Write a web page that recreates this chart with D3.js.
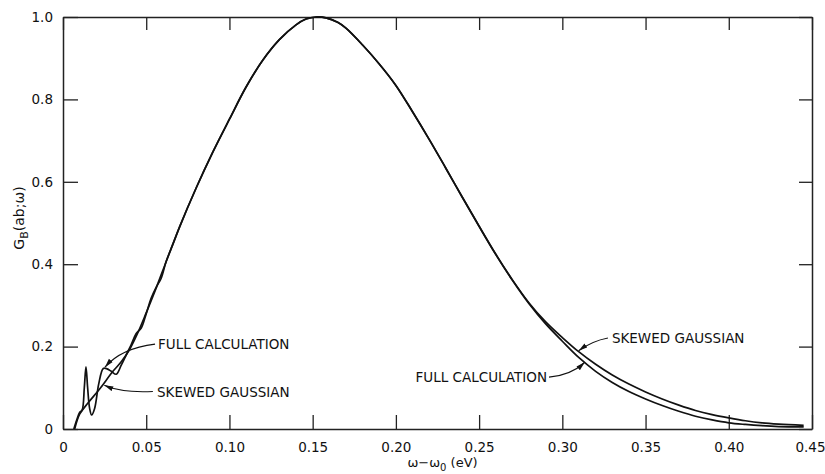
<!DOCTYPE html>
<html>
<head>
<meta charset="utf-8">
<script src="https://cdn.jsdelivr.net/npm/d3@7"></script>
<style>
  html, body { margin: 0; padding: 0; background: #fff; }
  svg text { font-family: "DejaVu Sans", sans-serif; fill: #111; }
</style>
</head>
<body>
<div id="chart"></div>
<script>
// tick values
const xTicks = [0, 0.05, 0.10, 0.15, 0.20, 0.25, 0.30, 0.35, 0.40, 0.45]
const yTicks = [0, 0.2, 0.4, 0.6, 0.8, 1.0]

// skewed gaussian [omega - omega0, G]
const skewedGaussian = [
  [0.007, 0], [0.010, 0.036], [0.015, 0.063], [0.022, 0.097], [0.030, 0.140],
  [0.035, 0.163], [0.040, 0.193], [0.045, 0.234], [0.050, 0.282], [0.055, 0.332],
  [0.060, 0.385], [0.070, 0.490], [0.080, 0.585], [0.090, 0.672], [0.100, 0.752],
  [0.110, 0.830], [0.120, 0.895], [0.130, 0.945], [0.140, 0.981], [0.146, 0.995],
  [0.152, 1.0], [0.158, 0.998], [0.165, 0.987], [0.170, 0.973], [0.180, 0.932],
  [0.190, 0.886], [0.200, 0.834], [0.210, 0.770], [0.220, 0.703], [0.230, 0.633],
  [0.240, 0.562], [0.250, 0.492], [0.260, 0.424], [0.270, 0.362], [0.280, 0.306],
  [0.290, 0.260], [0.300, 0.222], [0.310, 0.187], [0.320, 0.157], [0.330, 0.131],
  [0.340, 0.109], [0.350, 0.090], [0.360, 0.073], [0.370, 0.058], [0.380, 0.045],
  [0.390, 0.035], [0.400, 0.027], [0.410, 0.020], [0.420, 0.015], [0.430, 0.012],
  [0.445, 0.009]
]

// full calculation, with the oscillations near threshold
const fullCalculation = [
  [0.0065, 0], [0.0085, 0.025], [0.0100, 0.040], [0.0115, 0.046], [0.0128, 0.100],
  [0.0138, 0.151], [0.0148, 0.100], [0.0160, 0.050], [0.0172, 0.034], [0.0190, 0.050],
  [0.0215, 0.110], [0.0242, 0.147], [0.0265, 0.146], [0.029, 0.140], [0.032, 0.133],
  [0.035, 0.155], [0.038, 0.180], [0.041, 0.205], [0.044, 0.232], [0.047, 0.245],
  [0.050, 0.280], [0.053, 0.318], [0.056, 0.344], [0.059, 0.366], [0.062, 0.407],
  [0.066, 0.448], [0.070, 0.490], [0.080, 0.585], [0.090, 0.672], [0.100, 0.752],
  [0.110, 0.830], [0.120, 0.895], [0.130, 0.945], [0.140, 0.981], [0.146, 0.995],
  [0.152, 1.0], [0.158, 0.998], [0.165, 0.987], [0.170, 0.973], [0.180, 0.932],
  [0.190, 0.886], [0.200, 0.834], [0.210, 0.770], [0.220, 0.703], [0.230, 0.633],
  [0.240, 0.562], [0.250, 0.492], [0.260, 0.424], [0.270, 0.361], [0.280, 0.304],
  [0.290, 0.255], [0.300, 0.213], [0.310, 0.173], [0.320, 0.140], [0.330, 0.113],
  [0.340, 0.091], [0.350, 0.073], [0.360, 0.057], [0.370, 0.043], [0.380, 0.031],
  [0.390, 0.022], [0.400, 0.015], [0.410, 0.011], [0.420, 0.008], [0.430, 0.006],
  [0.445, 0.005]
]

// labels with arrows: text anchor point, arrow start, bend, head (data units)
const labels = [
  {text: "FULL CALCULATION", at: [0.0571, 0.206], anchor: "start",
   arrow: [[0.0553, 0.206], [0.035, 0.196], [0.0252, 0.150]]},
  {text: "SKEWED GAUSSIAN", at: [0.0565, 0.090], anchor: "start",
   arrow: [[0.054, 0.091], [0.036, 0.087], [0.0248, 0.106]]},
  {text: "SKEWED GAUSSIAN", at: [0.3298, 0.221], anchor: "start",
   arrow: [[0.3274, 0.221], [0.318, 0.214], [0.3098, 0.190]]},
  {text: "FULL CALCULATION", at: [0.2908, 0.126], anchor: "end",
   arrow: [[0.292, 0.126], [0.305, 0.130], [0.3135, 0.162]]}
]

const width = 825
const height = 474
const margin = {top: 17, right: 13, bottom: 45, left: 63}
const fontSize = 13.5

const svg = d3.select("#chart")
  .append("svg")
  .attr("width", width)
  .attr("height", height)

const x = d3.scaleLinear()
  .domain([0, 0.45])
  .range([margin.left, width - margin.right])

const y = d3.scaleLinear()
  .domain([0, 1])
  .range([height - margin.bottom, margin.top])

const styleAxis = g => {
  g.select(".domain").attr("stroke", "#222").attr("stroke-width", 1.5)
  g.selectAll(".tick line").attr("stroke", "#222").attr("stroke-width", 1.3)
  g.selectAll("text").attr("font-size", fontSize).attr("font-family", "DejaVu Sans").attr("fill", "#111")
}

// bottom axis, ticks pointing in
svg.append("g")
  .attr("transform", `translate(0, ${y(0)})`)
  .call(d3.axisBottom(x)
    .tickValues(xTicks)
    .tickSizeInner(-14)
    .tickSizeOuter(0)
    .tickPadding(13)
    .tickFormat(d => d === 0 ? "0" : d3.format(".2f")(d)))
  .call(styleAxis)
  .call(g => g.selectAll(".tick text").filter(d => d === 0.45).attr("dx", -2))

// top axis, no labels
svg.append("g")
  .attr("transform", `translate(0, ${y(1)})`)
  .call(d3.axisTop(x)
    .tickValues(xTicks)
    .tickSizeInner(-13)
    .tickSizeOuter(0)
    .tickFormat(""))
  .call(styleAxis)

// left axis
svg.append("g")
  .attr("transform", `translate(${x(0)}, 0)`)
  .call(d3.axisLeft(y)
    .tickValues(yTicks)
    .tickSizeInner(-15)
    .tickSizeOuter(0)
    .tickPadding(10)
    .tickFormat(d => d === 0 ? "0" : d3.format(".1f")(d)))
  .call(styleAxis)

// right axis
svg.append("g")
  .attr("transform", `translate(${x(0.45)}, 0)`)
  .call(d3.axisRight(y)
    .tickValues(yTicks)
    .tickSizeInner(-13)
    .tickSizeOuter(0)
    .tickFormat(""))
  .call(styleAxis)

// curves
const line = d3.line()
  .x(d => x(d[0]))
  .y(d => y(d[1]))
  .curve(d3.curveCatmullRom.alpha(0.5))

svg.append("path")
  .datum(skewedGaussian)
  .attr("fill", "none")
  .attr("stroke", "#111")
  .attr("stroke-width", 1.7)
  .attr("d", line)

svg.append("path")
  .datum(fullCalculation)
  .attr("fill", "none")
  .attr("stroke", "#111")
  .attr("stroke-width", 1.7)
  .attr("d", line)

// arrow heads
svg.append("defs").append("marker")
  .attr("id", "head")
  .attr("markerUnits", "userSpaceOnUse")
  .attr("markerWidth", 10)
  .attr("markerHeight", 6)
  .attr("refX", 9)
  .attr("refY", 3)
  .attr("orient", "auto")
  .append("path")
  .attr("d", "M0,0.5 L9,3 L0,5.5 Z")
  .attr("fill", "#111")

const arrowPath = pts => {
  const p = d3.path()
  p.moveTo(x(pts[0][0]), y(pts[0][1]))
  p.quadraticCurveTo(x(pts[1][0]), y(pts[1][1]), x(pts[2][0]), y(pts[2][1]))
  return p.toString()
}

svg.selectAll(".arrow")
  .data(labels)
  .join("path")
  .attr("class", "arrow")
  .attr("fill", "none")
  .attr("stroke", "#111")
  .attr("stroke-width", 1.1)
  .attr("marker-end", "url(#head)")
  .attr("d", d => arrowPath(d.arrow))

svg.selectAll(".label")
  .data(labels)
  .join("text")
  .attr("class", "label")
  .attr("x", d => x(d.at[0]))
  .attr("y", d => y(d.at[1]))
  .attr("dy", "0.36em")
  .attr("text-anchor", d => d.anchor)
  .attr("font-size", fontSize)
  .text(d => d.text)

// axis titles
const xTitle = svg.append("text")
  .attr("x", (x(0) + x(0.45)) / 2 + 5)
  .attr("y", height - 7)
  .attr("text-anchor", "middle")
  .attr("font-size", 13)
xTitle.append("tspan").text("ω−ω")
xTitle.append("tspan").attr("dy", 4).attr("font-size", 10).text("0")
xTitle.append("tspan").attr("dy", -4).text(" (eV)")

const yTitle = svg.append("text")
  .attr("transform", `translate(24, ${(y(0) + y(1)) / 2 - 5}) rotate(-90)`)
  .attr("text-anchor", "middle")
  .attr("font-size", 14)
yTitle.append("tspan").text("G")
yTitle.append("tspan").attr("dy", 4).attr("font-size", 11).text("B")
yTitle.append("tspan").attr("dy", -4).text("(ab;ω)")
</script>
</body>
</html>
